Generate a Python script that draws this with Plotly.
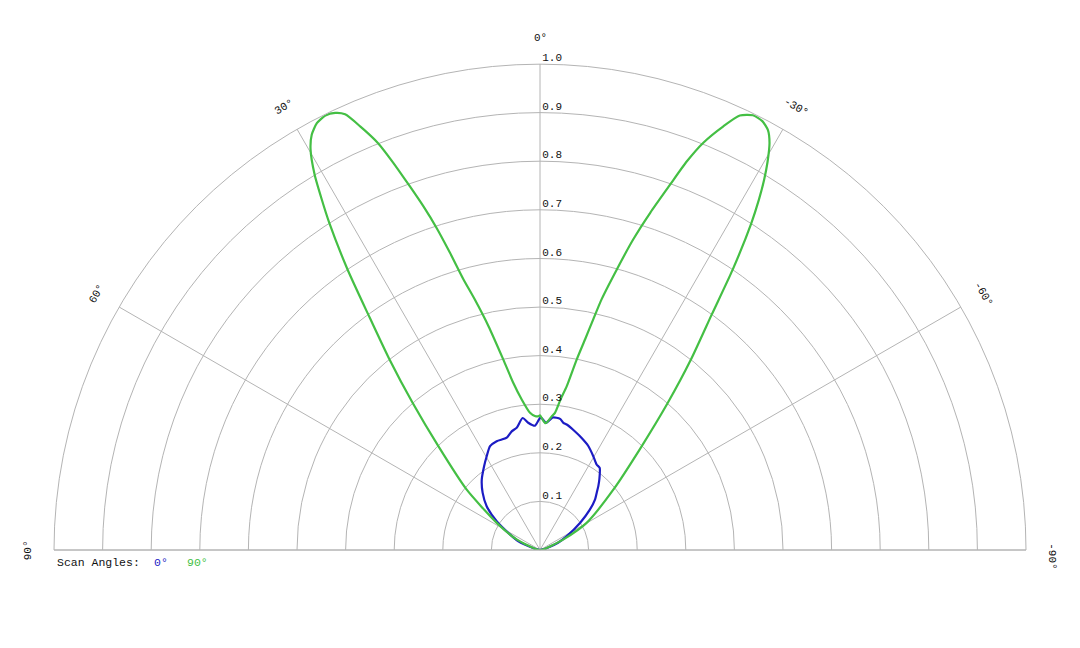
import math
import plotly.graph_objects as go

# ---- data (theta in degrees: 0 = top, + = left) ----
green_theta = [90, 80, 75, 70, 65.7, 57.9, 50.5, 44.4, 40.9, 38.3,
               36.1, 34.45, 32.8, 31.9, 31.0, 29.8, 28.8, 27.6, 26.3, 25.1,
               24.1, 23.0, 21.7, 20.75, 19.7, 18.75, 17.8, 16.85, 15.8, 14.6,
               12.96, 10.9, 9.07, 6.93, 4.17, 2.2, 0.8, 0,
               -1.2, -2.5, -3.6, -5.0, -6.24, -7.76, -9.26, -10.9, -12.07, -13.0, -13.8,
               -15.3, -16.7, -18.1, -19.6, -20.7, -21.85, -23.4, -24.7, -26.1, -27.4,
               -28.5, -29.4, -30.4, -31.2, -32.0, -32.9, -34.5, -36.1, -38.4, -41.0,
               -44.5, -50.5, -59.8, -65.7, -70, -75, -80, -90]
green_r = [0, 0.006, 0.012, 0.025, 0.053, 0.105, 0.196, 0.299, 0.400, 0.500,
           0.600, 0.700, 0.800, 0.850, 0.900, 0.950, 0.975, 0.991, 0.997, 0.993,
           0.982, 0.947, 0.901, 0.852, 0.795, 0.747, 0.696, 0.639, 0.579, 0.533,
           0.4725, 0.399, 0.348, 0.312, 0.283, 0.276, 0.275, 0.277,
           0.268, 0.261, 0.266, 0.276, 0.284, 0.3125, 0.341, 0.399, 0.443, 0.487, 0.531,
           0.598, 0.667, 0.730, 0.798, 0.855, 0.903, 0.950, 0.984, 0.996, 0.994,
           0.983, 0.962, 0.925, 0.890, 0.850, 0.800, 0.700, 0.600, 0.500, 0.400,
           0.297, 0.196, 0.111, 0.053, 0.025, 0.012, 0.006, 0]

blue_theta = [90, 80, 74, 68, 62.7, 56.4, 50.6, 45.0, 39.6, 33.8,
              29.6, 25.7, 21.7, 16.5, 13.4, 10.8, 7.5, 5.3, 2.3, -0.3,
              -2.7, -5.5, -8.7, -10.4, -12.0, -15.7, -20.4, -24.9,
              -29.6, -33.5, -36.0, -40.0, -42.4, -44.7, -47.4, -51.0, -55.8, -62.7,
              -68, -74, -80, -90]
blue_r = [0, 0.004, 0.015, 0.048, 0.069, 0.107, 0.142, 0.167, 0.188, 0.207,
          0.222, 0.237, 0.241, 0.241, 0.251, 0.256, 0.274, 0.263, 0.256, 0.273,
          0.262, 0.274, 0.273, 0.266, 0.264, 0.256, 0.246, 0.236,
          0.222, 0.211, 0.209, 0.190, 0.178, 0.166, 0.154, 0.132, 0.100, 0.062,
          0.040, 0.015, 0.004, 0]

radial_grid = [0.1, 0.2, 0.3, 0.4, 0.5, 0.6, 0.7, 0.8, 0.9, 1.0]
radial_labels = [0.1, 0.2, 0.3, 0.4, 0.5, 0.6, 0.7, 0.8, 0.9, 1.0]
angle_ticks = [90, 60, 30, 0, -30, -60, -90]

series_names = ["0°", "90°"]
series_colors = ["#1c1cc4", "#44bf44"]
legend_title = "Scan Angles:"

FONT = "Liberation Mono, DejaVu Sans Mono, monospace"
GRID = "#b4b4b4"

fig = go.Figure()
fig.add_trace(go.Scatterpolar(r=blue_r, theta=blue_theta, mode="lines",
                              line=dict(color=series_colors[0], width=2.2, shape="spline", smoothing=0.6),
                              name=series_names[0], hoverinfo="skip"))
fig.add_trace(go.Scatterpolar(r=green_r, theta=green_theta, mode="lines",
                              line=dict(color=series_colors[1], width=2.2, shape="spline", smoothing=0.6),
                              name=series_names[1], hoverinfo="skip"))
fig.add_trace(go.Scatterpolar(r=radial_labels, theta=[0] * len(radial_labels), mode="text",
                              text=["\u2009" + f"{v:.1f}" for v in radial_labels],
                              textposition="top right",
                              textfont=dict(family=FONT, size=11, color="#111111"),
                              hoverinfo="skip", showlegend=False))

annotations = []
rho = 1.053
for a in angle_ticks:
    t = math.radians(a)
    annotations.append(dict(
        xref="paper", yref="paper",
        x=0.5 - 0.5 * rho * math.sin(t), y=rho * math.cos(t),
        text=f"{a}°", showarrow=False, textangle=-a,
        xanchor="center", yanchor="middle",
        yshift=-6 if a == -90 else 0,
        font=dict(family=FONT, size=11, color="#111111")))

legend_items = [(legend_title, "#111111", 0.001),
                (series_names[0], series_colors[0], 0.101),
                (series_names[1], series_colors[1], 0.135)]
for txt, col, xp in legend_items:
    annotations.append(dict(
        xref="paper", yref="paper", x=xp, y=-0.025,
        text=txt, showarrow=False, xanchor="left", yanchor="middle",
        font=dict(family=FONT, size=11.5, color=col)))

fig.update_layout(
    width=1080, height=648,
    margin=dict(l=46, r=62, t=56, b=106),
    paper_bgcolor="white",
    showlegend=False,
    polar=dict(
        domain=dict(x=[0, 1], y=[0, 1]),
        sector=[0, 180],
        bgcolor="white",
        angularaxis=dict(
            rotation=90, direction="counterclockwise",
            tickmode="array", tickvals=angle_ticks,
            showticklabels=False, ticks="",
            showgrid=True, gridcolor=GRID, gridwidth=1,
            showline=True, linecolor=GRID, linewidth=1,
        ),
        radialaxis=dict(
            range=[0, 1], angle=90,
            tickmode="array", tickvals=radial_grid,
            showticklabels=False, ticks="",
            showgrid=True, gridcolor=GRID, gridwidth=1,
            showline=False,
        ),
    ),
    annotations=annotations,
)

fig.write_html("out.html", config={"displayModeBar": False})
